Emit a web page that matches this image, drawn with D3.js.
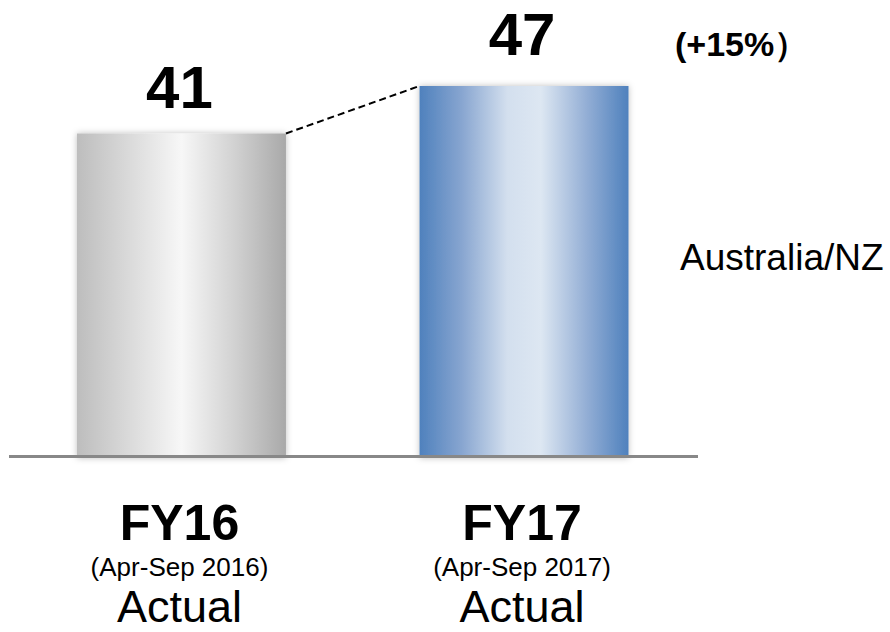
<!DOCTYPE html>
<html>
<head>
<meta charset="utf-8">
<script src="https://cdn.jsdelivr.net/npm/d3@7"></script>
<style>
  html, body { margin: 0; padding: 0; background: #fff; }
  svg { display: block; }
  text { font-family: Arial, "Liberation Sans", Helvetica, sans-serif; fill: #000; }
</style>
</head>
<body>
<svg id="chart" width="890" height="632"></svg>
<script>
// Half-year sales, Australia/NZ
const categories = ["FY16", "FY17"];
const periods = ["(Apr-Sep 2016)", "(Apr-Sep 2017)"];
const statusLabels = ["Actual", "Actual"];
const values = [41, 47];
const growthLabel = "(+15%\uFF09";
const regionLabel = "Australia/NZ";

const svg = d3.select("#chart");
const baseY = 458;

const x = d3.scaleBand()
  .domain(categories)
  .range([77, 628.5])
  .paddingInner(0.39)
  .paddingOuter(0);

const y = d3.scaleLinear()
  .domain([0, 47])
  .range([baseY, 86]);

const defs = svg.append("defs");

// Horizontal "tube" gradients for the two bars
function tubeGradient(id, stops) {
  const g = defs.append("linearGradient")
    .attr("id", id).attr("x1", "0%").attr("x2", "100%").attr("y1", "0%").attr("y2", "0%");
  stops.forEach(([o, c]) => g.append("stop").attr("offset", o).attr("stop-color", c));
}
tubeGradient("grad-gray", [
  ["0%", "#bdbdbd"], ["25%", "#dadada"], ["50%", "#f7f7f7"], ["75%", "#d2d2d2"], ["100%", "#a9a9a9"]
]);
tubeGradient("grad-blue", [
  ["0%", "#4f81bd"], ["20%", "#87a5d0"], ["42%", "#d3dfee"], ["58%", "#dde7f2"], ["80%", "#93aed5"], ["100%", "#4f81bd"]
]);

const shadow = defs.append("filter").attr("id", "bar-shadow")
  .attr("x", "-10%").attr("y", "-10%").attr("width", "120%").attr("height", "120%");
shadow.append("feDropShadow")
  .attr("dx", 0).attr("dy", 0).attr("stdDeviation", 3)
  .attr("flood-color", "#000").attr("flood-opacity", 0.25);

const fills = ["url(#grad-gray)", "url(#grad-blue)"];

// Bars
svg.selectAll("rect.bar")
  .data(values)
  .join("rect")
  .attr("class", "bar")
  .attr("x", (d, i) => x(categories[i]))
  .attr("y", d => y(d))
  .attr("width", x.bandwidth())
  .attr("height", d => y(0) - y(d))
  .attr("fill", (d, i) => fills[i])
  .attr("filter", "url(#bar-shadow)");

// Baseline
svg.append("line")
  .attr("x1", 9).attr("x2", 698)
  .attr("y1", baseY - 1.5).attr("y2", baseY - 1.5)
  .attr("stroke", "#888888").attr("stroke-width", 3);

// Dashed connector between bar tops
svg.append("line")
  .attr("x1", x(categories[0]) + x.bandwidth())
  .attr("y1", y(values[0]))
  .attr("x2", x(categories[1]))
  .attr("y2", y(values[1]))
  .attr("stroke", "#000").attr("stroke-width", 2)
  .attr("stroke-dasharray", "7,4");

// Value labels
const labelOffsets = [25, 31];
svg.selectAll("text.value")
  .data(values)
  .join("text")
  .attr("class", "value")
  .attr("x", (d, i) => x(categories[i]) + x.bandwidth() / 2 - 2)
  .attr("y", (d, i) => y(d) - labelOffsets[i])
  .attr("text-anchor", "middle")
  .attr("font-size", 60)
  .attr("font-weight", "bold")
  .text(d => d);

// Growth annotation
svg.append("text")
  .attr("x", 675).attr("y", 56)
  .attr("font-size", 34)
  .attr("font-weight", "bold")
  .text(growthLabel);

// Series label
svg.append("text")
  .attr("x", 680).attr("y", 270)
  .attr("font-size", 37)
  .text(regionLabel);

// Category labels
const cats = svg.selectAll("g.cat")
  .data(categories)
  .join("g")
  .attr("class", "cat")
  .attr("transform", d => `translate(${x(d) + x.bandwidth() / 2 - 2},0)`);

cats.append("text")
  .attr("y", 540)
  .attr("text-anchor", "middle")
  .attr("font-size", 50)
  .attr("font-weight", "bold")
  .text(d => d);

cats.append("text")
  .attr("y", 576)
  .attr("text-anchor", "middle")
  .attr("font-size", 26)
  .text((d, i) => periods[i]);

cats.append("text")
  .attr("y", 622)
  .attr("text-anchor", "middle")
  .attr("font-size", 45)
  .text((d, i) => statusLabels[i]);
</script>
</body>
</html>
